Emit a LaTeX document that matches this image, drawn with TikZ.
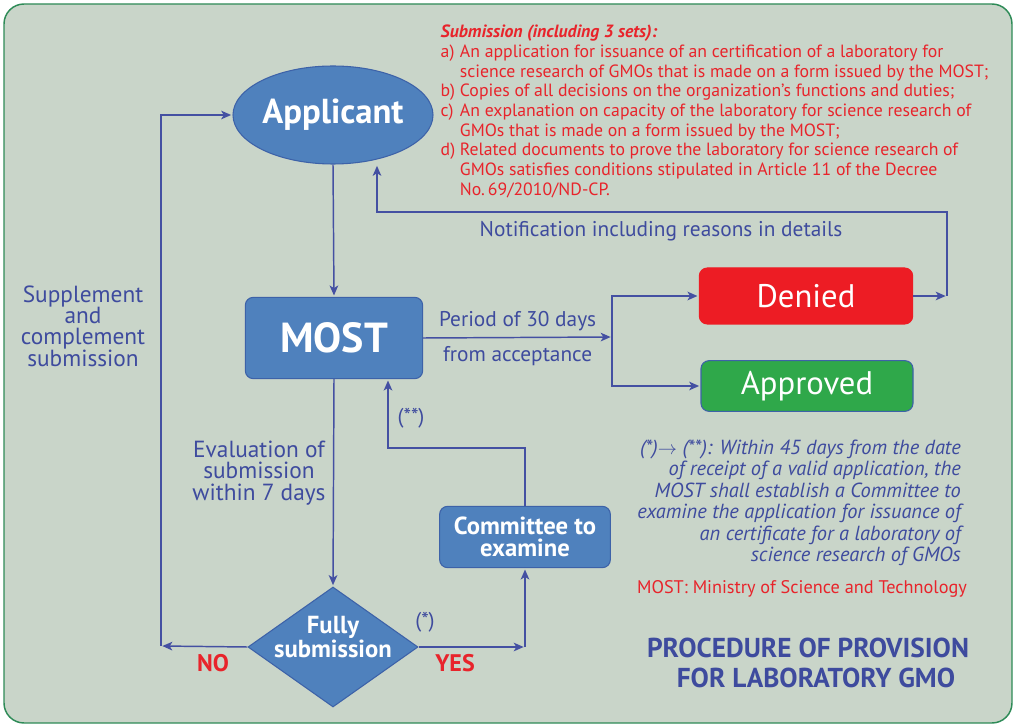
\documentclass[tikz,border=0pt]{standalone}
\usepackage{fontspec}
\setmainfont{PT Sans}
\usepackage{xcolor}
\usetikzlibrary{arrows, arrows.meta, positioning, shapes.geometric}

\definecolor{panelbg}{HTML}{C9D5C9}
\definecolor{panelline}{HTML}{2E8B57}
\definecolor{nodeblue}{HTML}{4F81BD}
\definecolor{nodeline}{HTML}{3D62A8}
\definecolor{linkblue}{HTML}{4450A2}
\definecolor{txtblue}{HTML}{3E4B9E}
\definecolor{redtxt}{HTML}{E8242B}
\definecolor{deniedred}{HTML}{ED1C24}
\definecolor{okgreen}{HTML}{2FA84A}

\tikzset{
	box/.style={rectangle, draw=nodeline, fill=nodeblue, rounded corners=6pt, line width=0.8pt, inner sep=0pt, text=white},
	applicant/.style={ellipse, draw=nodeline, fill=nodeblue, line width=0.8pt, inner sep=0pt, text=white, minimum width=150pt, minimum height=73.5pt, font=\bfseries\fontsize{26}{28}\selectfont},
	decision/.style={diamond, draw=nodeline, fill=nodeblue, line width=0.8pt, inner sep=0pt, minimum width=127.5pt, minimum height=90pt},
	bluetext/.style={text=txtblue, align=center, font=\fontsize{16}{16}\selectfont},
	sidetext/.style={text=txtblue, align=center, font=\fontsize{17.5}{16}\selectfont},
	answer/.style={text=redtxt, font=\bfseries\fontsize{18}{18}\selectfont}
}

\begin{document}
\begin{tikzpicture}[x=0.75pt, y=-0.75pt,
		->,
		>={Stealth[length=7.5pt, width=6.5pt, inset=2pt]},
		shorten >=1pt,
		line width=1.1pt,
		draw=linkblue]
	
	\useasboundingbox (0,0) rectangle (1015,727);
	\draw[-, fill=panelbg, draw=panelline, line width=1.1pt, rounded corners=15pt] (4,4) rectangle (1012,723);
	
	% main nodes
	\node[applicant] (app) at (333,115) {Applicant};
	\node[box, minimum width=133pt, minimum height=61pt, font=\bfseries\fontsize{31.5}{33}\selectfont] (most) at (334,338) {MOST};
	\node[box, fill=deniedred, draw=deniedred, minimum width=160pt, minimum height=42pt, font=\fontsize{24.5}{26}\selectfont] (denied) at (806,296) {Denied};
	\node[box, fill=okgreen, minimum width=159pt, minimum height=38pt, font=\fontsize{24.5}{26}\selectfont] (approved) at (807,386) {Approved};
	\node[box, minimum width=128pt, minimum height=46pt, align=center, font=\bfseries\fontsize{18.5}{17}\selectfont] (comm) at (525,537) {Committee to\\examine};
	\node[decision] (full) at (333,647) {};
	\node[text=white, align=center, font=\bfseries\fontsize{18.5}{16.5}\selectfont] (fulltext) at (333,637) {Fully\\submission};
	
	% turning points
	\coordinate (split) at (612,337);
	\coordinate (dn) at (947,296);
	\coordinate (nt) at (377,212);
	\coordinate (nl) at (161,646);
	\coordinate (yc) at (525,647);
	\coordinate (cb) at (388,448);
	
	% connectors
	\draw (app.south) -- (most.north);
	\draw (most.east) -- node[bluetext, above=1pt] (period) {Period of 30 days} node[bluetext, below=3pt] (accept) {from acceptance} (split);
	\draw (split) |- (denied.west);
	\draw (split) |- (approved.west);
	\draw (denied.east) -- (dn);
	\draw (dn) |- (nt) -- (nt |- app.south);
	\draw (most.south) -- (full.north);
	\draw (full.west) -- (nl);
	\draw (nl) |- (app.west);
	\draw (full.east) -- (yc);
	\draw (yc) -- (comm.south);
	\draw (comm.north) |- (cb) -- (cb |- most.south);
	
	% labels
	\node[bluetext] (notif) at (661,231) {Notification including reasons in details};
	\node[sidetext] (suppl) at (83,326) {Supplement\\and\\complement\\submission};
	\node[sidetext] (eval) at (259,473) {Evaluation of\\submission\\within 7 days};
	\node[bluetext] (star2) at (411,418) {(**)};
	\node[bluetext] (star1) at (425,622) {(*)};
	\node[answer] (no) at (213,663) {NO};
	\node[answer] (yes) at (455,663) {YES};
	
	% submission list
	\node[anchor=north west, inner sep=0pt, text=redtxt, font=\fontsize{13.3}{14.8}\selectfont] (subm) at (440,23) {%
		\begin{tabular}{@{}l@{ }l@{}}
			\multicolumn{2}{@{}l}{\bfseries\itshape Submission (including 3 sets):}\\
			a) & An application for issuance of an certification of a laboratory for\\
			   & science research of GMOs that is made on a form issued by the MOST;\\
			b) & Copies of all decisions on the organization’s functions and duties;\\
			c) & An explanation on capacity of the laboratory for science research of\\
			   & GMOs that is made on a form issued by the MOST;\\
			d) & Related documents to prove the laboratory for science research of\\
			   & GMOs satisfies conditions stipulated in Article 11 of the Decree\\
			   & No.\,69/2010/ND-CP.
		\end{tabular}};
	
	% notes
	\node[anchor=east, text=txtblue, align=right, font=\itshape\fontsize{15.3}{16.1}\selectfont] (note) at (966,503) {(*)$\rightarrow$ (**): Within 45 days from the date\\of receipt of a valid application, the\\MOST shall establish a Committee to\\examine the application for issuance of\\an certificate for a laboratory of\\science research of GMOs};
	\node[text=redtxt, font=\fontsize{13.7}{15}\selectfont] (legend) at (802,589) {MOST: Ministry of Science and Technology};
	\node[text=txtblue, align=center, font=\bfseries\fontsize{20.5}{22.5}\selectfont] (title) at (808,663) {PROCEDURE OF PROVISION\\\hspace*{12pt}FOR LABORATORY GMO};
\end{tikzpicture}
\end{document}
